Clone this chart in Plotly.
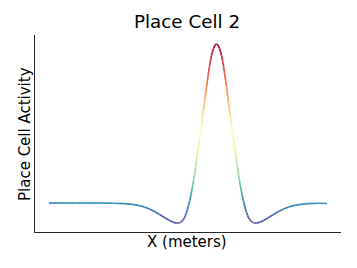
import plotly.graph_objects as go

# Position along the track (normalised, 0..1) and place-cell activity (peak = 1)
x_pos = [0.0, 0.0989, 0.1888, 0.2356, 0.2716, 0.3004, 0.3219, 0.3435, 0.3615, 0.3795,
         0.3975, 0.4155, 0.4335, 0.4478, 0.4586, 0.4658, 0.4694, 0.4730, 0.4766, 0.4802,
         0.4838, 0.4874, 0.4910, 0.4946, 0.4982, 0.5018, 0.5054, 0.5090, 0.5126, 0.5162,
         0.5198, 0.5234, 0.5270, 0.5306, 0.5342, 0.5378, 0.5414, 0.5450, 0.5486, 0.5522,
         0.5558, 0.5594, 0.5629, 0.5665, 0.5701, 0.5737, 0.5773, 0.5809, 0.5845, 0.5881,
         0.5917, 0.5953, 0.5989, 0.6025,
         0.6061, 0.6097, 0.6133, 0.6169, 0.6205, 0.6241, 0.6277, 0.6313, 0.6349, 0.6385,
         0.6421, 0.6457, 0.6493, 0.6529, 0.6565, 0.6601, 0.6637, 0.6673, 0.6709, 0.6745,
         0.6781, 0.6817, 0.6853, 0.6888, 0.6924, 0.6960, 0.6996, 0.7032, 0.7068, 0.7104,
         0.7140, 0.7176, 0.7212, 0.7248, 0.7284, 0.7320, 0.7356, 0.7392, 0.7464, 0.7572,
         0.7716, 0.7896, 0.8076, 0.8255, 0.8435, 0.8615, 0.8831, 0.9047, 0.9335, 0.9694, 1.0]
activity = [0.0, 0.0, 0.0, -0.0013, -0.0038, -0.0082, -0.0145, -0.0252, -0.0377, -0.0535,
            -0.0723, -0.0912, -0.1101, -0.1214, -0.1258, -0.1258, -0.1245, -0.1214, -0.1170, -0.1101,
            -0.1025, -0.0912, -0.0774, -0.0597, -0.0396, -0.0157, 0.0094, 0.0377, 0.0692, 0.1038,
            0.1403, 0.1792, 0.2214, 0.2642, 0.3082, 0.3522, 0.3975, 0.4434, 0.4906, 0.5377,
            0.5849, 0.6321, 0.6792, 0.7264, 0.7736, 0.8176, 0.8585, 0.8962, 0.9277, 0.9528,
            0.9717, 0.9874, 0.9969, 1.0,
            0.9969, 0.9874, 0.9717, 0.9528, 0.9277, 0.8962, 0.8585, 0.8176, 0.7736, 0.7264,
            0.6792, 0.6321, 0.5849, 0.5377, 0.4906, 0.4434, 0.3975, 0.3522, 0.3082, 0.2642,
            0.2214, 0.1792, 0.1403, 0.1038, 0.0692, 0.0377, 0.0094, -0.0157, -0.0396, -0.0597,
            -0.0774, -0.0912, -0.1025, -0.1101, -0.1170, -0.1214, -0.1245, -0.1258, -0.1258, -0.1214,
            -0.1101, -0.0912, -0.0723, -0.0535, -0.0377, -0.0252, -0.0145, -0.0082, -0.0038, -0.0013, -0.003]

title_text = "Place Cell 2"
x_label = "X (meters)"
y_label = "Place Cell Activity"

# Spectral_r colormap
spectral = ['#9e0142', '#d53e4f', '#f46d43', '#fdae61', '#fee08b', '#ffffbf',
            '#e6f598', '#abdda4', '#66c2a5', '#3288bd', '#5e4fa2'][::-1]


def hex_rgb(h):
    h = h.lstrip('#')
    return [int(h[i:i + 2], 16) for i in (0, 2, 4)]


def cmap(t):
    t = min(max(t, 0.0), 1.0)
    n = len(spectral) - 1
    i = min(int(t * n), n - 1)
    f = t * n - i
    a, b = hex_rgb(spectral[i]), hex_rgb(spectral[i + 1])
    c = [round(a[k] + (b[k] - a[k]) * f) for k in range(3)]
    return f"rgb({c[0]},{c[1]},{c[2]})"


ymin, ymax = min(activity), max(activity)
span_y = ymax - ymin
xmin, xmax = min(x_pos), max(x_pos)
span_x = xmax - xmin

fig = go.Figure()
for i in range(len(x_pos) - 1):
    t = ((activity[i] + activity[i + 1]) / 2 - ymin) / span_y
    fig.add_trace(go.Scatter(
        x=[x_pos[i], x_pos[i + 1]], y=[activity[i], activity[i + 1]],
        mode="lines", line=dict(color=cmap(t), width=1.7),
        showlegend=False, hoverinfo="skip"))

W, H = 357, 268
L, R, T, B = 35, 16, 35, 36
PW, PH = W - L - R, H - T - B
fig.update_layout(
    width=W, height=H,
    margin=dict(l=L, r=R, t=T, b=B),
    paper_bgcolor="white", plot_bgcolor="white",
    font=dict(family="DejaVu Sans", color="black"),
    title=dict(text=title_text, x=187 / W, xanchor="center", xref="container",
               y=1 - 22 / H, yanchor="middle", yref="container",
               font=dict(size=18.3, family="DejaVu Sans", color="black")),
)
fig.add_annotation(text=x_label, xref="paper", yref="paper", x=(187 - L) / PW,
                   y=-(242 - (H - B)) / PH, xanchor="center", yanchor="middle",
                   showarrow=False, font=dict(size=15.0, family="DejaVu Sans", color="black"))
fig.add_annotation(text=y_label, xref="paper", yref="paper", x=-(L - 25) / PW,
                   y=((H - B) - 134) / PH, xanchor="center", yanchor="middle", textangle=-90,
                   showarrow=False, font=dict(size=15.0, family="DejaVu Sans", color="black"))
fig.update_xaxes(range=[xmin - 0.05 * span_x, xmax + 0.05 * span_x],
                 showgrid=False, zeroline=False, showticklabels=False, ticks="",
                 showline=True, linecolor="#262626", linewidth=1)
fig.update_yaxes(range=[ymin - 0.05 * span_y, ymax + 0.05 * span_y],
                 showgrid=False, zeroline=False, showticklabels=False, ticks="",
                 showline=True, linecolor="#262626", linewidth=1)

fig.write_html("out.html", config={"displayModeBar": False},
               post_script="document.body.style.margin='0';document.body.style.overflow='hidden';")
